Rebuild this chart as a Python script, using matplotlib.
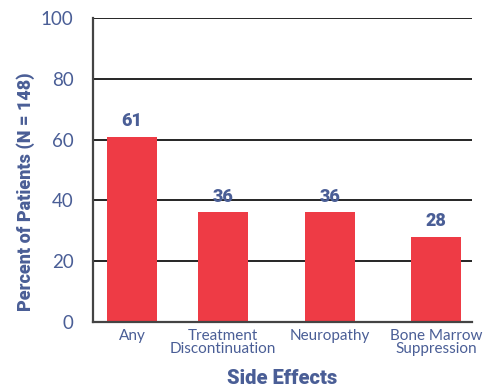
import matplotlib
matplotlib.use("Agg")
import matplotlib.pyplot as plt

categories = ["Any", "Treatment\nDiscontinuation", "Neuropathy", "Bone Marrow\nSuppression"]
percents = [61, 36, 36, 28]
x_pos = [3.9, 13.0, 23.7, 34.3]
yticks = [0, 20, 40, 60, 80, 100]

navy = "#4a5e96"
red = "#ee3b45"
heavy = ["Roboto", "DejaVu Sans"]

fig = plt.figure(figsize=(4.92, 3.92), dpi=100)
ax = fig.add_axes([0.189, 0.179, 0.770, 0.775])

ax.bar(x_pos, percents, width=5.0, color=red, zorder=2)
for x, v in zip(x_pos, percents):
    ax.text(x, v + 2.2, str(v), ha="center", va="bottom", color=navy,
            fontsize=13, fontweight="heavy", family=heavy)

ax.set_xlim(0, 37.9)
ax.set_ylim(0, 100)
ax.set_yticks(yticks)
ax.yaxis.grid(True, color="black", linewidth=1.2, zorder=0)
ax.set_axisbelow(True)
ax.set_xticks(x_pos)
ax.set_xticklabels(categories, family="Lato", fontsize=11, color=navy, linespacing=0.95)
ax.tick_params(axis="y", labelsize=13.5, labelcolor=navy, length=0, pad=14)
ax.tick_params(axis="x", length=0, pad=5)
for lbl in ax.get_yticklabels():
    lbl.set_family("Lato")

for side in ["top", "right"]:
    ax.spines[side].set_visible(False)
for side in ["left", "bottom"]:
    ax.spines[side].set_color("#444444")
    ax.spines[side].set_linewidth(1.6)

ax.set_ylabel("Percent of Patients (N = 148)", family=heavy, fontweight="heavy",
              fontsize=13, color=navy)
ax.yaxis.set_label_coords(-0.152, 0.43)
ax.set_xlabel("Side Effects", family=heavy, fontweight="heavy", fontsize=14.5,
              color=navy, labelpad=9)

fig.savefig("out.png", dpi=100)
